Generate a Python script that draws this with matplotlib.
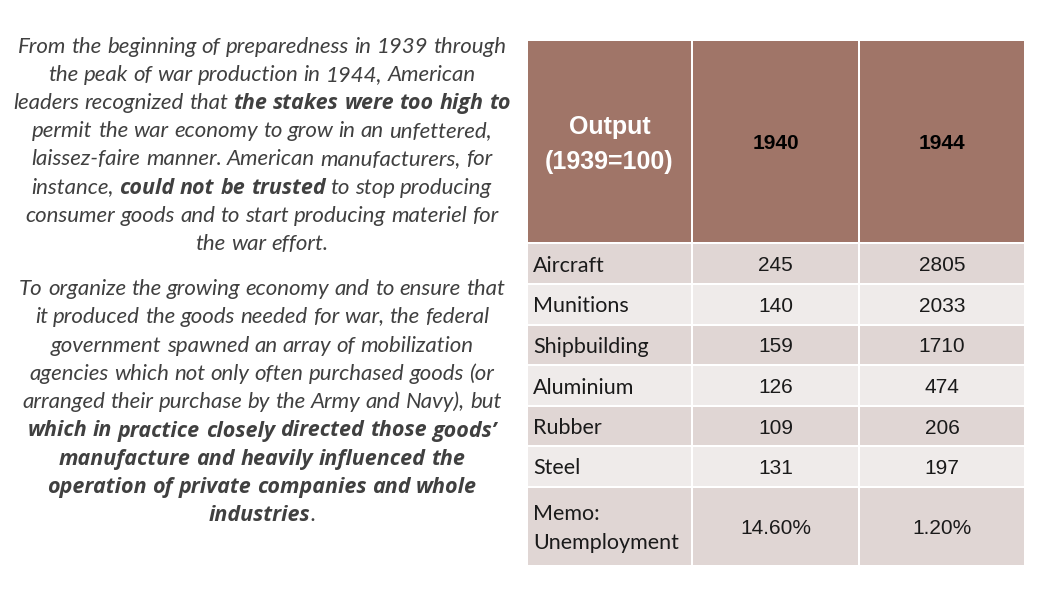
import re
import matplotlib
matplotlib.use("Agg")
import matplotlib.pyplot as plt
from matplotlib.patches import Rectangle

# table data
row_labels = ["Aircraft", "Munitions", "Shipbuilding", "Aluminium", "Rubber", "Steel", "Memo:\nUnemployment"]
values_1940 = ["245", "140", "159", "126", "109", "131", "14.60%"]
values_1944 = ["2805", "2033", "1710", "474", "206", "197", "1.20%"]
header = ["Output\n(1939=100)", "1940", "1944"]

# left text, **...** marks bold
para1 = [
    "From the beginning of preparedness in 1939 through",
    "the peak of war production in 1944, American",
    "leaders recognized that **the stakes were too high to**",
    "permit the war economy to grow in an unfettered,",
    "laissez-faire manner. American manufacturers, for",
    "instance, **could not be trusted** to stop producing",
    "consumer goods and to start producing materiel for",
    "the war effort.",
]
para2 = [
    "To organize the growing economy and to ensure that",
    "it produced the goods needed for war, the federal",
    "government spawned an array of mobilization",
    "agencies which not only often purchased goods (or",
    "arranged their purchase by the Army and Navy), but",
    "**which in practice closely directed those goods\u2019**",
    "**manufacture and heavily influenced the**",
    "**operation of private companies and whole**",
    "**industries**.",
]

W, H = 1053, 593
fig = plt.figure(figsize=(W / 100, H / 100), dpi=100)
ax = fig.add_axes([0, 0, 1, 1])
ax.set_xlim(0, W)
ax.set_ylim(H, 0)
ax.axis("off")
renderer = fig.canvas.get_renderer()

FONTS = {False: "Lato", True: "Open Sans"}
TXT_COLOR = "#404040"
sizes = {False: 13.2, True: 13.2}


def text_width(s, bold, size):
    t = ax.text(0, 0, s, fontsize=size, family=FONTS[bold], style="italic",
                weight="bold" if bold else "normal")
    w = t.get_window_extent(renderer).width
    t.remove()
    return w


def tokens(line):
    sp = {b: text_width("a a", b, sizes[b]) - text_width("aa", b, sizes[b]) for b in (False, True)}
    toks = []
    for i, seg in enumerate(line.split("**")):
        bold = i % 2 == 1
        for tok in re.findall(r"\S+|\s+", seg):
            if tok.isspace():
                toks.append((None, bold, sp[bold] * len(tok)))
            else:
                toks.append((tok, bold, text_width(tok, bold, sizes[bold])))
    return toks


# fit sizes so lines are as wide as in the slide
w0 = sum(t[2] for t in tokens(para1[0]))
sizes[False] = sizes[False] * 488 / w0
w1 = sum(t[2] for t in tokens(para2[5]))
sizes[True] = sizes[True] * 470 / w1


def draw_line(y, line, xc=262):
    toks = tokens(line)
    total = sum(t[2] for t in toks)
    x = xc - total / 2
    for tok, bold, w in toks:
        if tok is not None:
            ax.text(x, y, tok, fontsize=sizes[bold], family=FONTS[bold], style="italic",
                    weight="bold" if bold else "normal", color=TXT_COLOR,
                    va="baseline", ha="left")
        x += w


for i, line in enumerate(para1):
    draw_line(53 + i * 28.1, line)
for i, line in enumerate(para2):
    draw_line(295 + i * 28.3, line)

# table
col_x = [527, 692, 859, 1025]
row_y = [40, 243, 284, 325, 365, 406, 446, 487, 566]
header_color = "#A07568"
dark_row = "#E0D6D4"
light_row = "#EFEBEA"
gap = 1.0

for c in range(3):
    ax.add_patch(Rectangle((col_x[c] + gap, row_y[0] + gap), col_x[c + 1] - col_x[c] - 2 * gap,
                           row_y[1] - row_y[0] - 2 * gap, facecolor=header_color, edgecolor="none"))
    xc = (col_x[c] + col_x[c + 1]) / 2
    yc = (row_y[0] + row_y[1]) / 2
    if c == 0:
        ax.text(xc, yc + 3, header[c], ha="center", va="center", color="white", fontsize=18,
                weight="bold", family="Liberation Sans", linespacing=1.55)
    else:
        ax.text(xc, yc + 2, header[c], ha="center", va="center", color="black", fontsize=15,
                weight="bold", family="Liberation Sans")

for r, label in enumerate(row_labels):
    top, bot = row_y[r + 1], row_y[r + 2]
    fc = dark_row if r % 2 == 0 else light_row
    for c in range(3):
        ax.add_patch(Rectangle((col_x[c] + gap, top + gap), col_x[c + 1] - col_x[c] - 2 * gap,
                               bot - top - 2 * gap, facecolor=fc, edgecolor="none"))
    yc = (top + bot) / 2 + 2
    ax.text(col_x[0] + 6, yc, label, ha="left", va="center", fontsize=15.5, color="#1a1a1a",
            family="Lato", linespacing=1.6)
    ax.text((col_x[1] + col_x[2]) / 2, yc, values_1940[r], ha="center", va="center",
            fontsize=15, color="#1a1a1a", family="Liberation Sans")
    ax.text((col_x[2] + col_x[3]) / 2, yc, values_1944[r], ha="center", va="center",
            fontsize=15, color="#1a1a1a", family="Liberation Sans")

fig.savefig("out.png", dpi=100)
plt.close()
